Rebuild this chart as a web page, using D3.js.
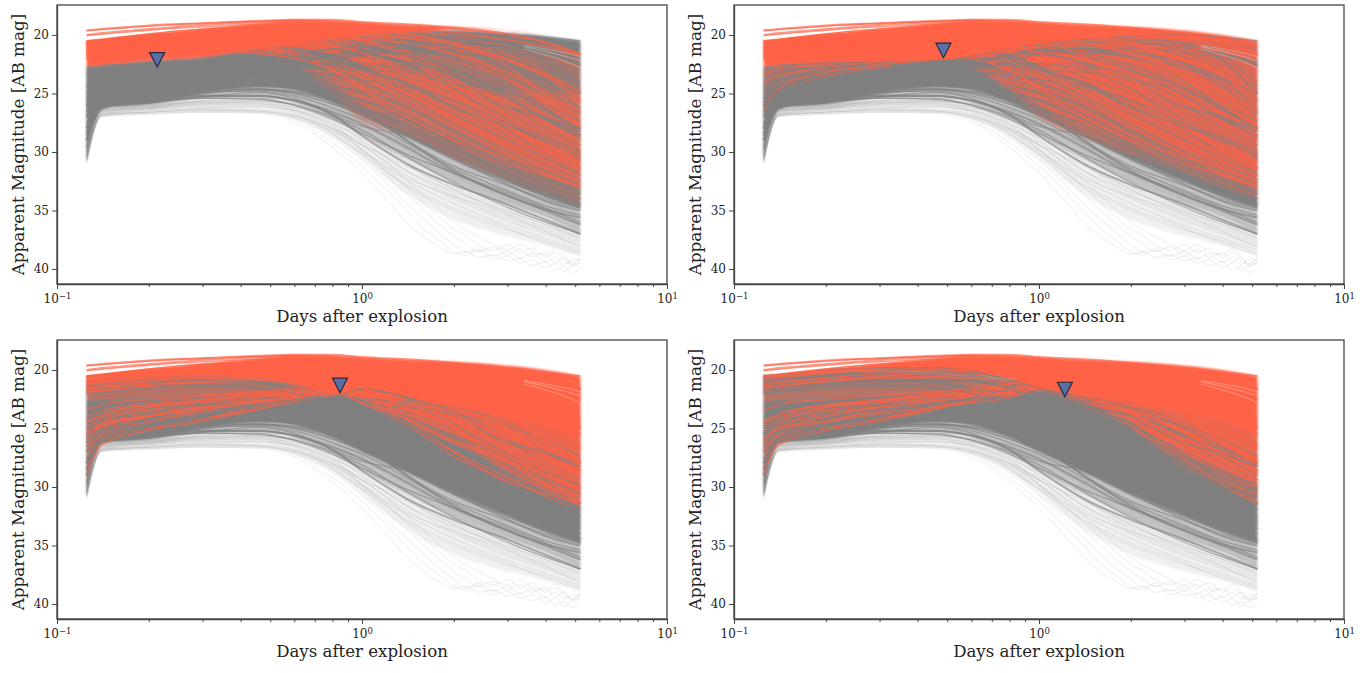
<!DOCTYPE html>
<html>
<head>
<meta charset="utf-8">
<script src="https://cdn.jsdelivr.net/npm/d3@7"></script>
<style>
  html, body { margin: 0; padding: 0; background: #fff; }
  svg { display: block; }
  text { font-family: "DejaVu Serif", serif; fill: #222; }
</style>
</head>
<body>
<div id="chart"></div>
<script>
var xLabel = "Days after explosion";
var yLabel = "Apparent Magnitude [AB mag]";
var yTicks = [20, 25, 30, 35, 40];
var xMajor = [0.1, 1, 10];
var xMinor = [0.2, 0.3, 0.4, 0.5, 0.6, 0.7, 0.8, 0.9, 2, 3, 4, 5, 6, 7, 8, 9];
var xExp = {0.1: "\u22121", 1: "0", 10: "1"};

// upper limit marker in each panel
var limitDays = [0.213, 0.486, 0.847, 1.216];
var limitMags = [22.1, 21.3, 21.3, 21.65];
var cutMag = 22.1;

// envelopes, magnitudes at bandDays
var bandDays = [0.125, 0.13, 0.14, 0.2, 0.3, 0.45, 0.6, 0.8, 1, 1.4, 2, 2.8, 4, 5.2];
var veilBottom = [31.2, 28.8, 26.5, 26.3, 26, 26, 26.8, 28.6, 30.6, 33.6, 35.8, 37, 38, 38.9];
var greyMidBottom = [31, 28.2, 26.3, 26, 25.4, 25.2, 25.8, 27.2, 28.6, 30.6, 32.6, 34.2, 35.6, 37];
var greyDenseBottom = [30.8, 27.8, 26.2, 25.9, 25, 24.4, 24.7, 25.8, 27, 28.7, 30.6, 32.2, 33.8, 34.8];
var redTop = [20.5, 20.5, 20.4, 20, 19.5, 19, 18.75, 18.8, 18.95, 19.15, 19.3, 19.55, 20, 20.5];
var greyTop = [
  [22.7, 22.7, 22.6, 22.2, 21.9, 21, 20.5, 20, 19.8, 19.7, 19.6, 19.8, 20.1, 20.5],
  [22.7, 22.7, 22.6, 22.3, 22.2, 22, 21.5, 21, 20.5, 20, 19.8, 19.9, 20.1, 20.5],
  [20.8, 20.8, 20.7, 20.4, 20.3, 20.6, 21, 21, 21, 21, 21, 21, 21, 21],
  [20.4, 20.4, 20.4, 20.2, 20.2, 20.4, 20.6, 21, 21, 21, 21, 21, 21, 21]
];
var solidBottom = [
  [22.7, 22.7, 22.6, 22.2, 21.9, 21.2, 20.8, 20.2, 20, 19.8, 19.5, 19.6, 20, 20.5],
  [22.7, 22.7, 22.6, 22.4, 22.3, 22.1, 22.1, 22.3, 22.3, 21.5, 20.8, 20.4, 20.5, 20.9],
  [20.7, 20.7, 20.6, 20.4, 20.3, 20.6, 21.2, 21.9, 22.3, 22.6, 23.2, 24, 24.8, 26],
  [20.6, 20.6, 20.5, 20.2, 20, 20.2, 20.5, 20.8, 21.5, 22.1, 22.8, 23.6, 24.4, 25.6]
];
var heavyTop = [
  [22.7, 22.7, 22.6, 22.2, 21.9, 21.9, 22.6, 23, 23, 23.6, 24.5, 25, 25, 25],
  [22.7, 22.7, 22.6, 22.4, 22.3, 22.1, 22.1, 22.3, 22.3, 21.5, 20.8, 20.4, 20.5, 20.9],
  [20.7, 20.7, 20.6, 20.4, 20.3, 20.6, 21.2, 21.9, 22.3, 22.6, 23.2, 24, 24.8, 26],
  [20.6, 20.6, 20.5, 20.2, 20, 20.2, 20.5, 20.8, 21.5, 22.1, 22.8, 23.6, 24.4, 25.6]
];
var heavyBottom = [
  [22.7, 22.7, 22.6, 22.2, 21.9, 21.9, 22.6, 24, 26, 27, 29, 30.5, 32, 33],
  [22.7, 22.7, 22.6, 22.4, 22.3, 22.1, 22.8, 24.6, 26.1, 27.9, 29.2, 30.4, 32, 33],
  [20.7, 20.7, 20.6, 20.4, 20.3, 20.6, 21.2, 21.9, 22.4, 23.6, 25.2, 27.2, 29.2, 30.8],
  [20.6, 20.6, 20.5, 20.2, 20, 20.2, 20.5, 20.8, 21.6, 22.8, 24.4, 27, 29.2, 30.6]
];
var lightTop = [
  [22.7, 22.7, 22.6, 22.2, 21.9, 21.2, 20.8, 20.2, 20, 19.9, 20, 20.6, 21.4, 21.6],
  [22.7, 22.7, 22.6, 22.4, 22.3, 22.1, 22.1, 24.6, 26.1, 27.9, 29.2, 30.4, 32, 33],
  [20.7, 20.7, 20.6, 20.4, 20.3, 20.6, 21.2, 21.9, 22.4, 23.6, 25.2, 27.2, 29.2, 30.8],
  [20.6, 20.6, 20.5, 20.2, 20, 20.2, 20.5, 20.8, 21.6, 22.8, 24.4, 27, 29.2, 30.6]
];
var lightBottom = [
  [22.7, 22.7, 22.6, 22.2, 21.9, 21.2, 22.6, 25, 27.5, 28.5, 30.5, 32, 33.5, 34.5],
  [24.5, 24.2, 23.8, 23.5, 23, 22.4, 22.1, 24.8, 27, 28.8, 30.2, 31.5, 33, 34],
  [22.6, 22.6, 22.6, 22.5, 22.4, 22.3, 22.1, 22, 22.6, 24, 25.6, 28.4, 30.4, 31.5],
  [22.8, 22.8, 22.7, 22.6, 22.5, 22.4, 22.3, 22.2, 22, 23.2, 25, 28, 30, 31.5]
];
var lightOpacity = [0.28, 0.38, 0.45, 0.42];
var heavyOpacity = [0.5, 0.7, 0.82, 0.82];

// pale streaks in the late bright end, days then magnitudes
var gapDays = [3.4, 4, 4.6, 5.2];
var gapCurves = [
  [20.9, 21.2, 21.5, 21.85],
  [21, 21.4, 21.8, 22.2],
  [21.2, 21.7, 22.2, 22.8]
];

// light curves, magnitudes at curveDays
var curveDays = [0.125, 0.14, 0.2, 0.3, 0.45, 0.6, 0.8, 1, 1.4, 2, 2.8, 4, 5.2];
var brightCurves = [
  [19.6, 19.5, 19.2, 19, 18.8, 18.7, 18.7, 18.9, 19.1, 19.4, 19.8, 20.6, 21.6],
  [19.65, 19.55, 19.25, 19, 18.85, 18.75, 18.8, 19, 19.2, 19.5, 19.9, 20.7, 21.7],
  [20, 19.85, 19.5, 19.15, 18.9, 18.8, 18.9, 19.1, 19.4, 19.8, 20.3, 21, 21.7],
  [20.05, 19.95, 19.6, 19.3, 19.1, 19, 19, 19.2, 19.6, 20.1, 20.8, 21.8, 22.8],
  [20.6, 20.5, 20.1, 19.7, 19.4, 19.2, 19.2, 19.4, 19.9, 20.7, 21.8, 23.4, 24.8],
  [20.9, 20.7, 20.3, 20, 19.7, 19.6, 19.7, 20, 20.6, 21.6, 23, 25, 26.5],
  [21.2, 21, 20.6, 20.2, 19.9, 19.9, 20.1, 20.5, 21.3, 22.6, 24.2, 26.3, 27.8],
  [21.5, 21.3, 20.9, 20.5, 20.3, 20.3, 20.6, 21.1, 22.2, 23.8, 25.5, 27.6, 29],
  [21.8, 21.6, 21.2, 20.8, 20.6, 20.6, 21, 21.6, 23, 24.8, 26.6, 28.6, 29.8],
  [22, 21.8, 21.4, 21.1, 20.9, 21, 21.5, 22.2, 23.8, 25.6, 27.4, 29.3, 30.4],
  [20.8, 20.6, 20.2, 19.8, 19.6, 19.6, 20, 20.5, 21.6, 23.2, 25, 27.2, 28.6],
  [21, 20.8, 20.4, 20.1, 20, 20.2, 20.8, 21.6, 23.2, 25.2, 27, 29, 30.2],
  [21.4, 21.2, 20.8, 20.5, 20.5, 20.8, 21.6, 22.4, 24.2, 26.2, 28, 30, 31.2],
  [21.6, 21.4, 21.1, 20.9, 21, 21.4, 22.3, 23.2, 25, 27.2, 29, 31, 32],
  [22.1, 21.9, 21.5, 21.3, 21.3, 21.8, 22.7, 23.6, 25.6, 27.8, 29.8, 31.6, 32.6],
  [20.55, 20.4, 19.9, 19.5, 19.3, 19.4, 19.8, 20.4, 21.8, 23.8, 25.8, 28, 29.4],
  [20.6, 20.45, 20, 19.8, 19.8, 20.1, 20.8, 21.6, 23.4, 25.6, 27.6, 29.8, 31],
  [20.9, 20.8, 20.5, 20.3, 20.4, 20.8, 21.8, 22.8, 24.8, 27, 28.8, 30.8, 32],
  [21.3, 21.2, 20.9, 20.8, 21, 21.6, 22.6, 23.6, 25.8, 28, 30, 32, 33],
  [20.5, 20.4, 20, 19.8, 19.8, 20.1, 21, 21.9, 23.6, 25.4, 27, 28.8, 30],
  [20.6, 20.5, 20.1, 19.9, 20, 20.4, 21.2, 22, 23.9, 25.9, 27.7, 29.6, 30.8],
  [21, 20.9, 20.6, 20.6, 21, 21.6, 22.6, 23.4, 25, 26.8, 28.4, 30.2, 31.4],
  [21.7, 21.6, 21.3, 21.3, 21.6, 22, 22.8, 23.5, 24.9, 26.4, 27.8, 29.4, 30.4],
  [20.7, 20.6, 20.3, 20, 19.9, 19.9, 20.1, 20.3, 20.8, 21.6, 22.8, 24.8, 26.6],
  [21.1, 21, 20.7, 20.3, 20, 19.9, 19.9, 20, 20.3, 20.9, 21.8, 23.4, 25],
  [21.9, 21.8, 21.4, 21, 20.6, 20.4, 20.3, 20.4, 20.7, 21.2, 22, 23.6, 25.4],
  [21.6, 21.4, 21, 20.6, 20.2, 20, 20, 20.2, 20.7, 21.7, 23.4, 26, 28],
  [21, 20.8, 20.4, 20.1, 19.9, 19.8, 19.8, 20, 20.3, 21.2, 23.2, 26, 27.6],
  [20.6, 20.4, 20, 19.6, 19.4, 19.4, 19.6, 19.8, 20.2, 20.8, 22.2, 25.2, 27.2],
  [20.5, 20.35, 19.9, 19.5, 19.3, 19.2, 19.3, 19.5, 20, 20.6, 21.4, 23.2, 25.8],
  [21.8, 21.6, 21.2, 20.8, 20.4, 20.2, 20.4, 20.8, 21.4, 22.2, 23.4, 25.6, 27.8],
  [21.3, 21.1, 20.7, 20.3, 20.1, 20, 20.1, 20.4, 21.4, 23.6, 26.4, 28.8, 30],
  [20.6, 20.5, 20.1, 19.8, 19.5, 19.5, 19.8, 20.4, 22, 24.8, 27.4, 29.4, 30.6],
  [21.9, 21.7, 21.3, 21, 20.8, 20.9, 21.4, 22, 23, 24, 25.2, 27.4, 29],
  [21.2, 21, 20.6, 20.4, 20.4, 20.7, 21.3, 21.9, 23.4, 24.4, 25.4, 26.8, 28],
  [21.7, 21.5, 21.2, 20.9, 20.8, 21, 21.6, 22.4, 24.6, 27.4, 29, 30, 30.8],
  [20.8, 20.7, 20.4, 20.2, 20.2, 20.5, 21.2, 22.1, 24.2, 27, 29.2, 30.6, 31.4],
  [22, 21.9, 21.6, 21.4, 21.5, 22, 23, 24.4, 27, 29, 30.2, 31.4, 32.4],
  [21.4, 21.3, 21, 20.9, 21.1, 21.7, 23, 24.6, 27.4, 29.4, 30.8, 32, 33],
  [21.1, 20.9, 20.5, 20.3, 20.2, 20.4, 20.9, 21.5, 22.8, 25, 27.8, 30.2, 31.6],
  [21.5, 21.4, 21, 20.7, 20.6, 20.7, 21, 21.3, 22.2, 24.2, 27, 29.8, 31.4]
];
var riserCurves = [
  [27, 25.5, 24, 23.2, 22.4, 21.8, 21.2, 20.8, 20.4, 20.1, 20, 20.2, 20.5],
  [26.5, 25, 23.5, 22.8, 22, 21.4, 21, 20.6, 20.3, 20.2, 20.3, 20.6, 21],
  [26, 24.6, 23.2, 22.6, 22, 21.6, 21.2, 21, 20.8, 20.8, 21, 21.4, 21.9],
  [28, 26, 24.6, 23.6, 22.8, 22.2, 21.6, 21.2, 20.8, 20.7, 21, 21.7, 22.2],
  [25, 24.2, 23.2, 22.6, 22.2, 21.8, 21.4, 21.2, 21.1, 21.4, 22, 23, 24],
  [24.5, 23.8, 23, 22.5, 22.1, 21.9, 21.6, 21.5, 21.6, 22.2, 23.2, 25, 26.2],
  [26.5, 25.2, 24, 23.4, 22.9, 22.5, 22, 21.7, 21.5, 21.9, 22.6, 23.8, 24.6],
  [27.5, 26, 25, 24.2, 23.4, 22.8, 22.2, 21.8, 21.4, 21.2, 21.4, 21.9, 22.4],
  [26, 25.2, 24.4, 23.8, 23.2, 22.7, 22.1, 21.6, 21.2, 21.4, 22.2, 23.6, 25],
  [24, 23.5, 22.8, 22.3, 22, 21.8, 21.8, 21.9, 22.3, 23.2, 24.6, 26.6, 28.2],
  [23.4, 23, 22.5, 22.2, 21.9, 21.7, 21.6, 21.7, 22.2, 23.4, 25, 27.2, 28.6],
  [25.6, 24.8, 24, 23.4, 22.8, 22.4, 21.7, 22.9, 24.2, 26.3, 27.6, 29, 30.4],
  [25.4, 24.6, 23.9, 23.3, 22.7, 22.3, 21.7, 22.8, 24.1, 26.1, 27.4, 28.8, 30.2],
  [26, 25, 24.4, 23.8, 23.2, 22.8, 22.4, 21.6, 22.3, 23.6, 25.8, 27, 28],
  [26.2, 25.2, 24.5, 23.9, 23.3, 22.9, 22.5, 21.7, 22.4, 23.8, 25.9, 27.2, 28.2],
  [29, 26.4, 25.2, 24.4, 23.4, 22.6, 21.8, 21.4, 21.6, 22.6, 24.2, 26.4, 28],
  [28.4, 26.2, 25, 24.2, 23.2, 22.4, 21.6, 21.3, 21.8, 23, 24.8, 27.2, 28.8],
  [26, 25, 24, 23, 22.4, 22, 21.5, 21, 20.5, 20.2, 20.3, 21.6, 24.4],
  [27, 25.6, 24.4, 23.4, 22.6, 22.2, 21.7, 21.2, 20.7, 20.4, 20.6, 22.2, 25],
  [25.4, 24.6, 23.6, 23, 22.4, 22, 21.4, 21, 20.6, 20.6, 21.2, 23.2, 25.6],
  [24.4, 23.8, 23, 22.6, 22.3, 22, 21.6, 21.3, 21.2, 21.8, 23.4, 26.2, 28],
  [25.2, 24.4, 23.4, 22.8, 22.3, 22.1, 21.8, 21.6, 21.5, 21.6, 22.2, 24.4, 26.8],
  [25.8, 24.9, 23.8, 23.2, 22.7, 22.3, 21.9, 21.5, 21, 20.8, 20.9, 21.6, 22.6],
  [24.8, 24, 23.2, 22.8, 22.5, 22.2, 21.9, 21.6, 21.2, 21, 21.7, 23.8, 26.4]
];
var midCurves = [
  [23, 22.8, 22.5, 22.4, 22.3, 22.3, 22.5, 22.8, 23.6, 25, 26.6, 28.6, 30],
  [23.6, 23.2, 22.8, 22.6, 22.4, 22.4, 22.6, 23, 24, 25.6, 27.2, 29.2, 30.6],
  [24, 23.6, 23.2, 22.9, 22.6, 22.5, 22.7, 23.2, 24.4, 26.2, 28, 30, 31.4],
  [24.6, 24.2, 23.6, 23.2, 22.8, 22.6, 22.8, 23.4, 24.8, 26.8, 28.6, 30.6, 32],
  [25, 24.6, 24, 23.5, 23, 22.8, 23, 23.6, 25.2, 27.2, 29, 31, 32.4],
  [25.6, 25, 24.4, 23.8, 23.3, 23.1, 23.4, 24, 25.6, 27.6, 29.6, 31.6, 32.8],
  [23.2, 23, 22.7, 22.5, 22.6, 23, 23.8, 24.6, 26.2, 28.2, 30, 32, 33.2],
  [24.2, 23.8, 23.3, 23, 23, 23.4, 24.2, 25, 26.8, 28.8, 30.6, 32.4, 33.6],
  [25.2, 24.8, 24.2, 23.7, 23.6, 24, 24.8, 25.6, 27.2, 29.2, 31, 32.8, 34],
  [25.8, 25.2, 24.6, 24.2, 24.2, 24.6, 25.4, 26.2, 27.8, 29.8, 31.6, 33.2, 34.4],
  [22.8, 22.6, 22.4, 22.3, 22.2, 22.3, 22.6, 22.9, 23.2, 23.8, 24.6, 26, 27.4],
  [23.4, 23.1, 22.8, 22.6, 22.4, 22.3, 22.4, 22.6, 23, 23.9, 25.2, 27, 28.6],
  [23.8, 23.4, 22.9, 22.6, 22.4, 22.4, 22.5, 22.6, 22.8, 23.2, 24.2, 26.4, 28],
  [24.4, 24, 23.4, 23, 22.7, 22.5, 22.4, 22.4, 22.6, 23.4, 25.4, 28, 29.4],
  [25, 24.4, 23.8, 23.3, 22.9, 22.6, 22.4, 22.4, 23, 24.6, 26.8, 28.8, 29.8],
  [24.2, 23.8, 23.2, 22.8, 22.6, 22.7, 23.2, 23.8, 24.6, 25.6, 27, 29.6, 31.4],
  [24.8, 24.4, 23.8, 23.4, 23.2, 23.2, 23.4, 23.8, 24.4, 25.6, 27.6, 30.2, 31.8],
  [25.4, 24.8, 24.2, 23.8, 23.5, 23.4, 23.6, 24.2, 25.8, 28.4, 30.2, 31.6, 32.6]
];
var faintCurves = [
  [29.6, 26.2, 25.6, 25.4, 25.5, 26, 27, 28.1, 30.4, 32.6, 34.4, 36, 37],
  [29, 26.1, 25.6, 25.2, 25.2, 25.6, 26.6, 27.6, 29.6, 31.8, 33.4, 34.9, 35.6],
  [28.4, 26, 25.4, 24.9, 24.8, 25.2, 26.2, 27.2, 29.2, 31.4, 33, 34.6, 35.4],
  [28, 26, 25.2, 24.7, 24.6, 25, 25.9, 26.8, 28.6, 30.6, 32.4, 34.2, 35],
  [29, 26.2, 25.8, 25.4, 25.4, 26, 27.2, 28.4, 30.2, 31.8, 33.2, 34.8, 36],
  [28.6, 26.1, 25.7, 25.2, 25.2, 25.6, 26.8, 28.6, 31, 32.8, 34.2, 35.8, 37],
  [27.6, 25.9, 25.2, 24.8, 24.6, 24.8, 25.4, 26.6, 29, 31.2, 32.6, 34, 34.8],
  [27, 25.8, 25.1, 24.6, 24.4, 24.5, 25, 25.6, 27.2, 29.4, 31.4, 33.2, 34.4],
  [26.6, 25.6, 25, 24.5, 24.3, 24.4, 25, 26, 28.4, 30.6, 32.2, 33.8, 34.6],
  [26.2, 25.4, 24.8, 24.4, 24.2, 24.4, 25.2, 26.4, 29, 31.6, 33.4, 35, 36.2],
  [28.4, 26.2, 25.8, 25.3, 24.9, 25.4, 26.8, 27.8, 28.6, 30.2, 32, 33.8, 34.8],
  [28, 26.1, 25.6, 25, 24.7, 24.9, 25.6, 26.4, 27.6, 29.6, 31.6, 33.4, 34.6],
  [27.8, 26, 25.4, 24.8, 24.4, 24.4, 24.9, 25.5, 26.8, 28.8, 30.8, 32.8, 34],
  [26.8, 25.8, 25.2, 24.6, 24.3, 24.3, 24.6, 25, 26.2, 28.2, 30.2, 32.2, 33.6],
  [25.4, 25, 24.6, 24.2, 24, 24.1, 24.4, 24.8, 26, 28, 30, 32.2, 33.4]
];
var paleCurves = [
  [30.4, 26.8, 26.5, 26.3, 26.4, 26.9, 28, 29.2, 31.6, 33.8, 35.4, 36.8, 37.8],
  [30.6, 26.7, 26.4, 26.2, 26.2, 26.8, 28.4, 30, 32.4, 34.4, 36, 37.4, 38.4],
  [30.2, 26.6, 26.3, 26, 26, 26.5, 27.6, 28.8, 31, 33.2, 34.8, 36.2, 37.2],
  [30, 26.5, 26.2, 25.9, 25.9, 26.4, 27.8, 29.4, 32, 34, 35.6, 37, 38],
  [29.8, 26.5, 26.1, 25.8, 25.8, 26.2, 27.2, 28.2, 30.2, 32.4, 34.2, 35.8, 36.8],
  [29.6, 26.4, 26.1, 25.7, 25.6, 26, 26.9, 27.8, 29.8, 32, 33.8, 35.4, 36.6],
  [29.4, 26.4, 26, 25.6, 25.5, 25.9, 26.8, 28.2, 30.8, 33, 34.6, 36, 37],
  [29.8, 26.5, 26.2, 25.8, 25.7, 26.1, 27.4, 29, 31.6, 33.4, 34.8, 36.2, 37.4],
  [30, 26.6, 26.2, 25.6, 25.4, 25.6, 26.4, 27.4, 29.4, 31.6, 33.6, 35.2, 36.2],
  [29.2, 26.3, 25.9, 25.4, 25.2, 25.5, 26.5, 27.6, 29.4, 31.2, 33, 34.8, 36],
  [29, 26.3, 25.8, 25.3, 25, 25.3, 26.2, 27.2, 28.8, 30.8, 32.8, 34.6, 35.8],
  [30.3, 26.7, 26.3, 26, 25.9, 26.2, 27, 28.4, 31, 33.6, 35.2, 36.6, 37.6],
  [30.5, 26.8, 26.4, 26.2, 26.1, 26.4, 27.6, 29.8, 33, 35, 36.4, 37.6, 38.6],
  [30.1, 26.6, 26.3, 26.1, 26.1, 26.6, 28, 29.8, 32.2, 33.8, 35, 36.4, 37.4],
  [29.9, 26.5, 26.2, 25.9, 25.7, 25.9, 26.6, 27.4, 28.8, 30.4, 32.2, 34.2, 35.6],
  [29.7, 26.4, 26, 25.7, 25.6, 25.8, 26.4, 27.1, 28.4, 30, 31.8, 33.8, 35.4],
  [30.7, 26.9, 26.6, 26.4, 26.5, 27, 28.2, 29.4, 31.2, 33.2, 35, 36.8, 38.2],
  [30.8, 26.9, 26.6, 26.5, 26.5, 27.1, 28.6, 30.2, 32.8, 34.8, 36.2, 37.8, 38.8]
];

// the faintest tracks get noisy at late times
var wiggleDays = [0.125, 0.14, 0.2, 0.3, 0.45, 0.6, 0.8, 1, 1.2, 1.4, 1.6, 1.8, 2, 2.2, 2.4, 2.7, 3, 3.3, 3.6, 4, 4.3, 4.6, 4.9, 5.2];
var wiggleCurves = [
  [31, 27, 26.8, 26.6, 26.7, 27.4, 29.6, 31.8, 34, 36, 37.3, 38.1, 38.7, 38.5, 39, 38.8, 39.3, 39.1, 39.7, 39.4, 40.1, 39.8, 40.3, 39.9],
  [30.6, 26.9, 26.7, 26.5, 26.6, 27.2, 29.2, 31.2, 33.2, 35, 36.6, 37.6, 38.5, 38.8, 38.4, 39.2, 38.9, 39.5, 39.2, 39.9, 39.5, 40.2, 39.7, 39.5],
  [30.8, 26.9, 26.7, 26.6, 26.6, 27.1, 28.8, 30.7, 32.6, 34.4, 35.8, 37, 37.9, 38.6, 38.2, 38.9, 38.5, 39.1, 38.7, 39.4, 39, 39.6, 39.2, 39.2],
  [30.5, 26.8, 26.6, 26.4, 26.5, 27, 28.5, 30.2, 32, 33.6, 35, 36.2, 37.2, 37.9, 38.5, 38.1, 38.8, 38.3, 39, 38.6, 39.4, 39, 39.8, 39.4],
  [30.4, 26.8, 26.6, 26.4, 26.4, 26.9, 28.2, 29.8, 31.4, 33, 34.4, 35.6, 36.6, 37.2, 37.9, 38.4, 37.9, 38.6, 38.2, 39, 38.6, 39.3, 39.6, 39],
  [30.3, 26.7, 26.5, 26.3, 26.3, 26.8, 28, 29.4, 30.9, 32.4, 33.8, 35, 36, 36.7, 37.2, 37.9, 38.4, 37.9, 38.5, 38.8, 38.3, 39, 39.5, 39.2]
];

var margin = [57, 734];
var rowTop = [5, 340];
var panelW = 610, panelH = 279;
var red = "#ff6347", grey = "#808080";

var svg = d3.select("#chart").append("svg")
  .attr("width", 1372).attr("height", 673);

var defs = svg.append("defs");
defs.append("filter").attr("id", "soft")
  .append("feGaussianBlur").attr("stdDeviation", 0.8);
defs.append("filter").attr("id", "softer")
  .append("feGaussianBlur").attr("stdDeviation", 0.35);

var panels = [[0, 0], [1, 0], [0, 1], [1, 1]];

// magnitude of a curve at time t, used only to sort curves by the limit
function magAt(days, mags, t) {
  var i = d3.bisectLeft(days, t);
  if (i <= 0) return mags[0];
  var f = (Math.log(t) - Math.log(days[i - 1])) / (Math.log(days[i]) - Math.log(days[i - 1]));
  return mags[i - 1] + f * (mags[i] - mags[i - 1]);
}

panels.forEach(function(p, k) {
  var g = svg.append("g")
    .attr("transform", "translate(" + margin[p[0]] + "," + rowTop[p[1]] + ")");

  var x = d3.scaleLog().domain([0.1, 10]).range([0, panelW]);
  var y = d3.scaleLinear().domain([17.44, 41.28]).range([0, panelH]);

  var area = function(top, bottom) {
    return d3.area()
      .x(function(d, i) { return x(bandDays[i]); })
      .y0(function(d, i) { return y(top[i]); })
      .y1(function(d, i) { return y(bottom[i]); })
      .curve(d3.curveMonotoneX)(bandDays);
  };
  var line = function(days) {
    return d3.line()
      .x(function(d, i) { return x(days[i]); })
      .y(function(d) { return y(d); })
      .curve(d3.curveMonotoneX);
  };

  var bands = g.append("g").attr("filter", "url(#soft)");
  bands.append("path").attr("d", area(greyTop[k], veilBottom)).attr("fill", grey).attr("fill-opacity", 0.12);
  bands.append("path").attr("d", area(greyTop[k], greyMidBottom)).attr("fill", grey).attr("fill-opacity", 0.4);
  bands.append("path").attr("d", area(greyTop[k], greyDenseBottom)).attr("fill", grey);
  bands.append("path").attr("d", area(lightTop[k], lightBottom[k])).attr("fill", red).attr("fill-opacity", lightOpacity[k]);
  bands.append("path").attr("d", area(heavyTop[k], heavyBottom[k])).attr("fill", red).attr("fill-opacity", heavyOpacity[k]);
  bands.append("path").attr("d", area(redTop, solidBottom[k])).attr("fill", red);

  var lines = g.append("g").attr("filter", "url(#softer)");

  // pale tracks first, they never reach the limit
  lines.selectAll("path.pale").data(paleCurves).enter().append("path")
    .attr("class", "pale")
    .attr("d", line(curveDays))
    .attr("fill", "none").attr("stroke", grey).attr("stroke-width", 1.1).attr("stroke-opacity", 0.15);
  lines.selectAll("path.wiggle").data(wiggleCurves).enter().append("path")
    .attr("class", "wiggle")
    .attr("d", line(wiggleDays))
    .attr("fill", "none").attr("stroke", grey).attr("stroke-width", 1).attr("stroke-opacity", 0.14);

  // everything else is red if it is brighter than the limit at the limit's time
  var rest = faintCurves.concat(midCurves, riserCurves, brightCurves);
  var n = rest.length;
  var mixed = rest.map(function(d, i) { return rest[(i * 37) % n]; });
  var isRed = function(d) { return magAt(curveDays, d, limitDays[k]) < cutMag; };

  lines.selectAll("path.track").data(mixed).enter().append("path")
    .attr("class", "track")
    .attr("d", line(curveDays))
    .attr("fill", "none")
    .attr("stroke", function(d) { return isRed(d) ? red : grey; })
    .attr("stroke-width", function(d, i) { return i % 4 == 1 ? 2.2 : 1.3; })
    .attr("stroke-opacity", function(d) { return isRed(d) ? 0.65 : 0.6; });

  // pale streaks near the late bright edge
  lines.selectAll("path.gap").data(gapCurves).enter().append("path")
    .attr("class", "gap")
    .attr("d", line(gapDays))
    .attr("fill", "none").attr("stroke", "#fff").attr("stroke-width", 1.1).attr("stroke-opacity", 0.28);

  // upper limit
  g.append("path")
    .attr("transform", "translate(" + x(limitDays[k]) + "," + y(limitMags[k]) + ")")
    .attr("d", "M-7.5,-7 L7.5,-7 L0,7.5 Z")
    .attr("fill", "#5a6fa6").attr("stroke", "#23283a").attr("stroke-width", 1.2);

  // axes
  var xAxis = d3.axisBottom(x)
    .tickValues(xMajor.concat(xMinor))
    .tickSize(5).tickSizeOuter(0)
    .tickFormat("");
  var gx = g.append("g").attr("transform", "translate(0," + panelH + ")").call(xAxis);
  gx.selectAll(".tick line").attr("y2", function(d) { return xMajor.indexOf(d) >= 0 ? 5 : 3; });
  var labels = gx.selectAll(".tick").filter(function(d) { return xMajor.indexOf(d) >= 0; })
    .select("text").attr("y", 10).attr("dy", "0.71em").attr("font-size", 12);
  labels.append("tspan").text("10");
  labels.append("tspan").attr("dy", "-0.45em").attr("font-size", 8.5)
    .text(function(d) { return xExp[d]; });

  var yAxis = d3.axisLeft(y).tickValues(yTicks).tickSize(5).tickSizeOuter(0).tickPadding(3);
  var gy = g.append("g").call(yAxis);
  gy.selectAll("text").attr("font-size", 12);

  g.selectAll(".domain").attr("stroke", "#444").attr("stroke-width", 1.3);
  g.selectAll(".tick line").attr("stroke", "#444");
  g.selectAll(".tick text").style("font-family", '"DejaVu Serif", serif').attr("fill", "#222");

  g.append("rect").attr("width", panelW).attr("height", panelH)
    .attr("fill", "none").attr("stroke", "#444").attr("stroke-width", 1.3);

  g.append("text").attr("x", panelW / 2).attr("y", 317)
    .attr("text-anchor", "middle").attr("font-size", 16.6).text(xLabel);
  g.append("text")
    .attr("transform", "translate(-33," + (panelH / 2) + ") rotate(-90)")
    .attr("text-anchor", "middle").attr("font-size", 16.8).text(yLabel);
});
</script>
</body>
</html>
